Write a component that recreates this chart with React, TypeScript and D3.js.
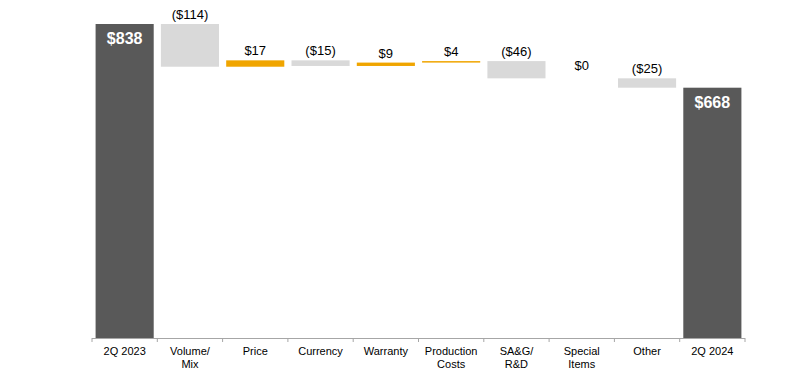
import React from "react";
import * as d3 from "d3";

const categories = ["2Q 2023", "Volume/\nMix", "Price", "Currency", "Warranty", "Production\nCosts", "SA&G/\nR&D", "Special\nItems", "Other", "2Q 2024"];
const values = [838, -114, 17, -15, 9, 4, -46, 0, -25, 668];
const kinds = ["total", "delta", "delta", "delta", "delta", "delta", "delta", "delta", "delta", "total"];
const labels = ["$838", "($114)", "$17", "($15)", "$9", "$4", "($46)", "$0", "($25)", "$668"];

const W = 796, H = 376;
const X0 = 92, X1 = 745, Y0 = 338;

export default function App() {
  const x = d3.scaleBand<string>().domain(categories).range([X0, X1]).paddingInner(0.11).paddingOuter(0.055);
  const y = d3.scaleLinear().domain([0, 838]).range([Y0, 24]);

  let running = 0;
  const bars = values.map((v, i) => {
    let lo: number, hi: number;
    if (kinds[i] === "total") {
      lo = 0; hi = v; running = v;
    } else {
      const start = running;
      running = start + v;
      lo = Math.min(start, running); hi = Math.max(start, running);
    }
    return { cat: categories[i], lo, hi, v, kind: kinds[i], label: labels[i] };
  });

  const colorOf = (b: any) => b.kind === "total" ? "#595959" : b.v > 0 ? "#f0a500" : "#d9d9d9";
  const step = (X1 - X0) / categories.length;

  return (
    <svg width={W} height={H} style={{ position: "absolute", left: 0, top: 0 }}>
      {bars.map((b, i) => {
        const bx = x(b.cat)!;
        const bw = x.bandwidth();
        const top = y(b.hi);
        const h = Math.max(y(b.lo) - y(b.hi), b.v === 0 ? 0 : 1);
        const cx = bx + bw / 2;
        return (
          <g key={i}>
            {h > 0 && <rect x={bx} y={top} width={bw} height={h} fill={colorOf(b)} />}
            {b.kind === "total" ? (
              <text x={cx} y={top + 20} textAnchor="middle" fill="#ffffff" fontFamily="Arial, Liberation Sans, sans-serif" fontWeight="bold" fontSize={16}>{b.label}</text>
            ) : (
              <text x={cx} y={top - (b.v === 0 ? 8 : 5)} textAnchor="middle" fill="#000" fontFamily="Arial, Liberation Sans, sans-serif" fontSize={13}>{b.label}</text>
            )}
          </g>
        );
      })}
      <line x1={X0} x2={X1} y1={Y0 + 0.5} y2={Y0 + 0.5} stroke="#a6a6a6" strokeWidth={1} />
      {d3.range(categories.length + 1).map(i => (
        <line key={i} x1={X0 + i * step} x2={X0 + i * step} y1={Y0} y2={Y0 + 4} stroke="#a6a6a6" strokeWidth={1} />
      ))}
      {categories.map((c, i) => {
        const cx = x(c)! + x.bandwidth() / 2;
        return (
          <text key={c} textAnchor="middle" fontFamily="Arial, Liberation Sans, sans-serif" fontSize={11} fill="#000">
            {c.split("\n").map((line, j) => (
              <tspan key={j} x={cx} y={355 + j * 12.5}>{line}</tspan>
            ))}
          </text>
        );
      })}
    </svg>
  );
}
